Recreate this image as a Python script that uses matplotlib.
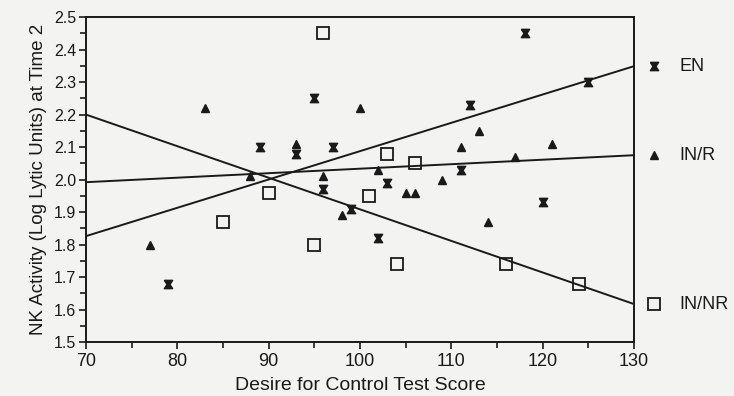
import numpy as np
import matplotlib
matplotlib.use("Agg")
import matplotlib.pyplot as plt
from matplotlib.ticker import MultipleLocator

plt.rcParams['font.family'] = ['Liberation Sans', 'DejaVu Sans']

#---------------------------------------------------------------
#                         data
#---------------------------------------------------------------
en_x = [79, 89, 93, 95, 96, 97, 99, 102, 103, 111, 112, 118, 120, 125]
en_y = [1.68, 2.10, 2.08, 2.25, 1.97, 2.10, 1.91, 1.82, 1.99, 2.03, 2.23, 2.45, 1.93, 2.30]

inr_x = [77, 83, 88, 93, 96, 98, 100, 102, 105, 106, 109, 111, 113, 114, 117, 121]
inr_y = [1.80, 2.22, 2.01, 2.11, 2.01, 1.89, 2.22, 2.03, 1.96, 1.96, 2.00, 2.10, 2.15, 1.87, 2.07, 2.11]

innr_x = [85, 90, 95, 96, 101, 103, 104, 106, 116, 124]
innr_y = [1.87, 1.96, 1.80, 2.45, 1.95, 2.08, 1.74, 2.05, 1.74, 1.68]

# fitted lines read at x = 70 and x = 130
fit_x    = [70, 130]
en_fit   = [1.826, 2.349]
inr_fit  = [1.992, 2.075]
innr_fit = [2.200, 1.617]

labels = ['EN', 'IN/R', 'IN/NR']

#---------------------------------------------------------------
#                         plot
#---------------------------------------------------------------
bowtie = [(-1, 1), (1, 1), (0.35, 0), (1, -1), (-1, -1), (-0.35, 0), (-1, 1)]
bg = '#f3f3f1'
fg = '#1a1a1a'

fig = plt.figure(figsize=(7.34, 3.96), dpi=100, facecolor=bg)
ax = fig.add_axes([0.117, 0.136, 0.747, 0.821], facecolor=bg)

ax.plot(fit_x, en_fit, '-', color=fg, lw=1.4)
ax.plot(fit_x, inr_fit, '-', color=fg, lw=1.4)
ax.plot(fit_x, innr_fit, '-', color=fg, lw=1.4)

ax.plot(en_x, en_y, ls='none', marker=bowtie, ms=6, color=fg)
ax.plot(inr_x, inr_y, ls='none', marker='^', ms=6, color=fg)
ax.plot(innr_x, innr_y, ls='none', marker='s', ms=8, mfc='none', mec=fg, mew=1.3)

# legend at right, aligned with line ends
ax.plot(132.2, en_fit[1], ls='none', marker=bowtie, ms=6, color=fg, clip_on=False)
ax.plot(132.2, inr_fit[1], ls='none', marker='^', ms=6, color=fg, clip_on=False)
ax.plot(132.2, innr_fit[1], ls='none', marker='s', ms=8, mfc='none', mec=fg, mew=1.3, clip_on=False)
for yv, lab in zip([en_fit[1], inr_fit[1], innr_fit[1]], labels):
    ax.text(135, yv, lab, fontsize=13, va='center', ha='left', color=fg)

ax.set_xlim(70, 130)
ax.set_ylim(1.5, 2.5)
ax.xaxis.set_major_locator(MultipleLocator(10))
ax.xaxis.set_minor_locator(MultipleLocator(5))
ax.yaxis.set_major_locator(MultipleLocator(0.1))
ax.yaxis.set_minor_locator(MultipleLocator(0.05))
ax.yaxis.set_major_formatter(matplotlib.ticker.FormatStrFormatter('%.1f'))
ax.tick_params(which='both', direction='out', width=1.2, colors=fg)
ax.tick_params(axis='x', labelsize=13, pad=3)
ax.tick_params(axis='y', labelsize=11.5, pad=2)
ax.tick_params(which='major', length=5)
ax.tick_params(which='minor', length=4)
for s in ax.spines.values():
    s.set_linewidth(1.4)
    s.set_color(fg)

ax.set_xlabel('Desire for Control Test Score', fontsize=14, color=fg, labelpad=5)
ax.set_ylabel('NK Activity (Log Lytic Units) at Time 2', fontsize=13.5, color=fg, labelpad=5)

fig.savefig('out.png', dpi=100, facecolor=bg)
